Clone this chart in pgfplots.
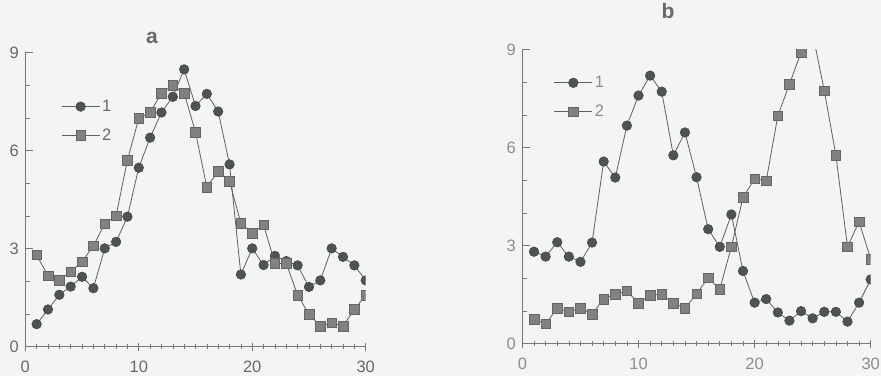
\documentclass[border=0pt]{standalone}
\usepackage{fontspec}
\setmainfont{Liberation Sans}
\usepackage{pgfplots}
\pgfplotsset{compat=1.18}
\definecolor{bg}{RGB}{243,244,244}
\definecolor{lnA}{RGB}{95,97,97}
\definecolor{circA}{RGB}{80,83,83}
\definecolor{sqA}{RGB}{128,130,130}
\definecolor{sqAd}{RGB}{100,102,102}
\definecolor{txtA}{RGB}{105,105,105}
\definecolor{txtB}{RGB}{140,140,140}
\definecolor{axc}{RGB}{120,120,120}

\pgfplotsset{
 panel/.style={
  scale only axis, height=294pt,
  xmin=0, xmax=30, ymin=0, ymax=9,
  axis x line=bottom, axis y line=left,
  axis line style={-, draw=axc, line width=0.7pt},
  xtick={0,10,20,30}, ytick={0,3,6,9},
  minor x tick num=9, minor y tick num=2,
  xtick align=center, ytick align=inside,
  major tick length=8pt, minor tick length=5pt,
  every tick/.style={axc, line width=0.6pt},
  ticklabel style={font=\fontsize{16.5}{16.5}\selectfont},
  xticklabel style={yshift=-7pt},
  yticklabel style={xshift=-3pt},
  /pgf/number format/assume math mode=true,
  clip marker paths=true,
  legend cell align=left,
  legend style={draw=none, fill=none, font=\fontsize{16.5}{16.5}\selectfont,
    row sep=12pt, inner sep=0pt,
    nodes={inner sep=2pt}},
  legend image code/.code={
    \draw[##1,mark=none] (0pt,0pt) -- (38pt,0pt);
    \path[##1] plot coordinates {(19pt,0pt)};
  },
  title style={font=\bfseries\fontsize{21}{21}\selectfont, anchor=center},
 },
 s1/.style={color=lnA, line width=0.8pt, mark=*, mark size=4.8pt,
   mark options={fill=circA, draw=circA!80!black, line width=0.5pt}},
 s2/.style={color=lnA, line width=0.8pt, mark=square*, mark size=4.8pt,
   mark options={fill=sqA, draw=sqAd, line width=0.5pt}},
}

\begin{document}
\begin{tikzpicture}
\path[use as bounding box, fill=bg] (0,0) rectangle (881pt,376pt);

\begin{axis}[panel, width=340.4pt, at={(25.3pt,29.3pt)}, anchor=south west,
  ticklabel style={text=txtA}, legend style={text=txtA, at={(0.105,0.846)}, anchor=north west},
  title={a}, title style={at={(0.372,1.03)}, text=txtA}]
\addplot[s1] coordinates {(1,0.69) (2,1.14) (3,1.59) (4,1.84) (5,2.14) (6,1.79) (7,3.01) (8,3.21) (9,3.98) (10,5.48)
 (11,6.40) (12,7.17) (13,7.65) (14,8.49) (15,7.37) (16,7.74) (17,7.20) (18,5.58) (19,2.21) (20,3.01)
 (21,2.50) (22,2.78) (23,2.62) (24,2.49) (25,1.83) (26,2.03) (27,3.01) (28,2.75) (29,2.49) (30,2.03)};
\addlegendentry{1}
\addplot[s2] coordinates {(1,2.81) (2,2.17) (3,2.04) (4,2.30) (5,2.60) (6,3.09) (7,3.76) (8,4.01) (9,5.71) (10,6.99)
 (11,7.17) (12,7.76) (13,8.01) (14,7.76) (15,6.57) (16,4.88) (17,5.38) (18,5.06) (19,3.78) (20,3.48)
 (21,3.73) (22,2.55) (23,2.55) (24,1.58) (25,0.99) (26,0.63) (27,0.73) (28,0.63) (29,1.14) (30,1.58)};
\addlegendentry{2}
\end{axis}

\begin{axis}[panel, width=348.3pt, at={(522.4pt,32.5pt)}, anchor=south west,
  ticklabel style={text=txtB}, legend style={text=txtB, at={(0.09,0.916)}, anchor=north west},
  title={b}, title style={at={(0.418,1.11)}, text=txtA}]
\addplot[s1] coordinates {(1,2.81) (2,2.66) (3,3.10) (4,2.66) (5,2.50) (6,3.09) (7,5.57) (8,5.08) (9,6.67) (10,7.59)
 (11,8.20) (12,7.71) (13,5.76) (14,6.46) (15,5.09) (16,3.50) (17,2.96) (18,3.95) (19,2.22) (20,1.25)
 (21,1.36) (22,0.95) (23,0.70) (24,0.99) (25,0.77) (26,0.97) (27,0.97) (28,0.67) (29,1.25) (30,1.96)};
\addlegendentry{1}
\addplot[s2] coordinates {(1,0.75) (2,0.60) (3,1.08) (4,0.97) (5,1.08) (6,0.90) (7,1.36) (8,1.51) (9,1.61) (10,1.23)
 (11,1.48) (12,1.50) (13,1.24) (14,1.08) (15,1.52) (16,2.01) (17,1.66) (18,2.96) (19,4.47) (20,5.04)
 (21,4.98) (22,6.97) (23,7.94) (24,8.91) (25,9.5) (26,7.74) (27,5.77) (28,2.96) (29,3.73) (30,2.58)};
\addlegendentry{2}
\end{axis}
\end{tikzpicture}
\end{document}
